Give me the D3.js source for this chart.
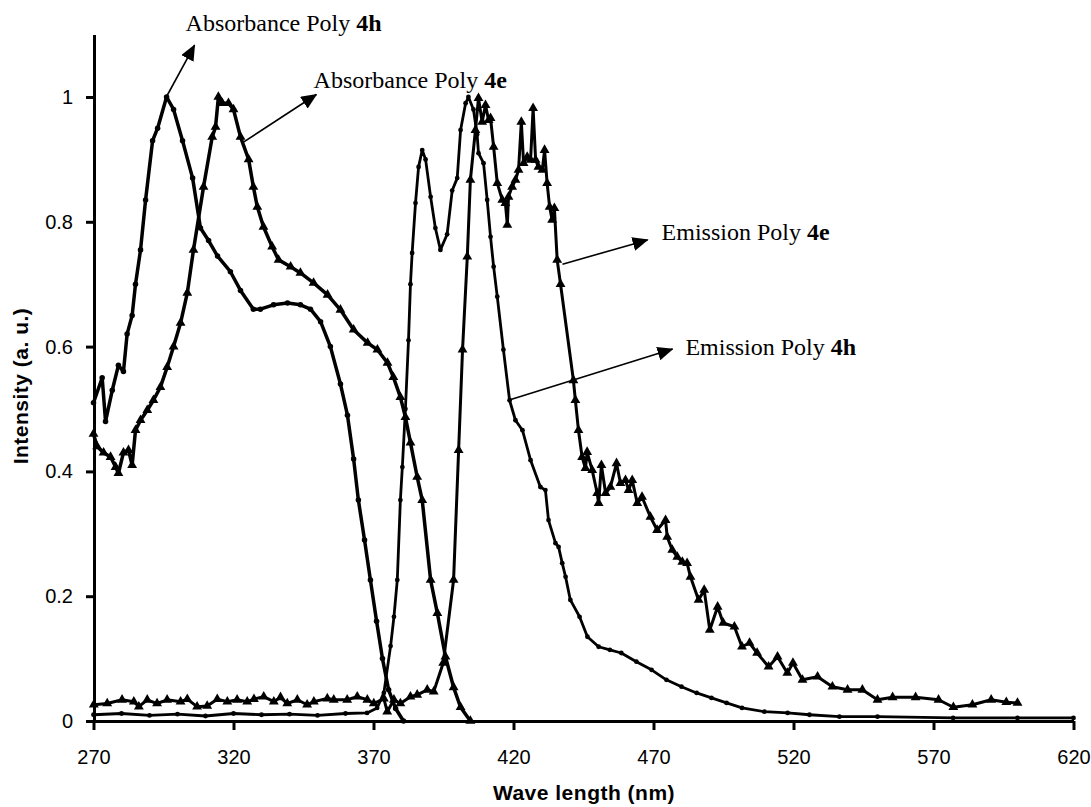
<!DOCTYPE html>
<html lang="en">

<head>
    <meta charset="UTF-8">
    <title>absorbance / emission</title>
    <style>
        body {
            margin: 0;
            background: #fff;
        }

        .tick text {
            font: 20px "Liberation Sans", Arial, sans-serif;
            fill: #000;
        }

        .title {
            font: bold 21px "Liberation Sans", Arial, sans-serif;
            letter-spacing: 0.5px;
        }

        .note {
            font: 24px "Liberation Serif", "Times New Roman", serif;
        }
    </style>
</head>

<body>
    <svg width="1091" height="807"></svg>
    <script src="https://d3js.org/d3.v7.min.js"></script>
    <script>
        // values: [wave length nm, intensity]
        let absH = [[270, 0.51], [273.1, 0.55], [274.3, 0.48], [276.7, 0.53], [278.9, 0.57], [280.7, 0.56],
            [282, 0.62], [283.8, 0.65], [285, 0.70], [286.8, 0.755], [288.6, 0.835], [291.1, 0.93],
            [292.9, 0.95], [296.1, 1.0], [298.6, 0.98], [301.8, 0.93], [305.4, 0.87], [308.2, 0.79],
            [311.1, 0.77], [314.3, 0.745], [318.9, 0.72], [322.5, 0.69], [327.1, 0.66], [329.6, 0.66],
            [334.3, 0.667], [339.3, 0.67], [343.9, 0.667], [347.5, 0.66], [351.1, 0.64], [354.6, 0.60],
            [358.2, 0.54], [360.7, 0.49], [362.9, 0.42], [364.6, 0.354], [366.8, 0.29], [368.9, 0.226],
            [371.1, 0.16], [373.2, 0.10], [375.4, 0.05], [377.9, 0.02], [380.7, 0]];

        let absE = [[270, 0.46], [271.3, 0.44], [273.6, 0.43], [276.1, 0.423], [277.9, 0.407], [278.9, 0.397],
            [280.7, 0.43], [282.5, 0.434], [283.8, 0.41], [285, 0.466], [286.8, 0.482], [289.2, 0.498],
            [291.4, 0.514], [293.9, 0.535], [296.3, 0.567], [298.6, 0.60], [301.1, 0.638], [303.5, 0.686],
            [305.7, 0.755], [309.3, 0.856], [312.4, 0.936], [313.6, 0.952], [314.6, 1.0], [316, 0.99],
            [318.2, 0.99], [320, 0.98], [322.5, 0.936], [325.4, 0.9], [327.1, 0.856], [328.5, 0.824],
            [330.7, 0.792], [333.8, 0.76], [336.1, 0.739], [340.4, 0.728], [343.9, 0.718], [348.6, 0.702],
            [353.6, 0.683], [358.2, 0.659], [362.9, 0.627], [367.9, 0.606], [371.4, 0.595], [375, 0.574],
            [377.1, 0.551], [379.6, 0.519], [381.4, 0.487], [383.2, 0.446], [385.6, 0.391], [387.4, 0.354],
            [390.4, 0.226], [392.8, 0.173], [395.7, 0.103], [398.6, 0.054], [401.1, 0.022], [404.6, 0]];

        let emH = [[270, 0.010], [280, 0.012], [290, 0.009], [300, 0.011], [310, 0.008], [320, 0.012],
            [330, 0.010], [340, 0.011], [350, 0.009], [360, 0.012], [367.7, 0.013], [371.3, 0.021],
            [373.7, 0.045], [376.1, 0.12], [377.3, 0.167], [378.5, 0.226], [379.6, 0.354], [380.3, 0.407],
            [381.4, 0.5], [382.5, 0.61], [383.2, 0.70], [383.8, 0.75], [385, 0.83], [386.1, 0.888],
            [387.4, 0.915], [388.6, 0.90], [390.4, 0.84], [392.1, 0.79], [393.9, 0.755], [396.3, 0.78],
            [398.1, 0.85], [399.9, 0.87], [401.1, 0.947], [402.9, 0.99], [403.9, 1.0], [405.7, 0.98],
            [407, 0.94], [407.5, 0.91], [409.3, 0.894], [410.6, 0.835], [411.8, 0.776], [412.9, 0.728],
            [414.2, 0.68], [416.4, 0.595], [418.6, 0.514], [420.7, 0.482], [423.2, 0.466], [426.1, 0.418],
            [429.6, 0.375], [431.4, 0.37], [432.5, 0.322], [435, 0.285], [436.1, 0.279], [437.4, 0.253],
            [438.6, 0.231], [440.3, 0.194], [443.6, 0.167], [446.4, 0.135], [450.4, 0.119], [454.4, 0.114],
            [458.5, 0.109], [463.9, 0.095], [469.3, 0.082], [474.6, 0.066], [480, 0.055], [485.4, 0.045],
            [490.7, 0.037], [496.1, 0.029], [501.6, 0.021], [509.6, 0.015], [517.9, 0.013], [525.7, 0.010],
            [536.4, 0.007], [550, 0.007], [577, 0.005], [600, 0.005], [620, 0.005]];

        let emE = [[270.1, 0.026], [274.9, 0.028], [280.2, 0.034], [284.4, 0.031], [286.2, 0.023], [289.2, 0.034],
            [292.7, 0.028], [296.3, 0.034], [301.1, 0.031], [303.5, 0.035], [307, 0.023], [310.6, 0.024],
            [314.2, 0.035], [317.8, 0.031], [321.3, 0.034], [324.9, 0.031], [327.3, 0.035], [330.8, 0.039],
            [334.4, 0.031], [336.8, 0.038], [339.2, 0.028], [342.8, 0.034], [346.3, 0.026], [348.7, 0.031],
            [353.5, 0.036], [355.8, 0.034], [360.6, 0.034], [364.2, 0.039], [367.8, 0.034], [370.1, 0.028],
            [373.7, 0.036], [374.9, 0.015], [377.3, 0.034], [379.6, 0.028], [383.2, 0.039], [385.6, 0.042],
            [389.2, 0.05], [391.5, 0.047], [394.9, 0.093], [398.6, 0.226], [400.4, 0.434], [401.8, 0.595],
            [403.5, 0.744], [404.6, 0.867], [406.4, 0.947], [407.5, 0.998], [408.8, 0.96], [410, 0.987],
            [411.1, 0.963], [411.8, 0.966], [412.9, 0.92], [414.2, 0.862], [416, 0.835], [417.1, 0.83],
            [417.8, 0.795], [418.2, 0.84], [419.5, 0.856], [420.7, 0.867], [421.8, 0.883], [422.8, 0.96],
            [423.6, 0.894], [424.9, 0.904], [426.1, 0.899], [427, 0.982], [427.9, 0.899], [428.9, 0.888],
            [430.3, 0.883], [431.1, 0.915], [432, 0.862], [432.9, 0.824], [433.8, 0.803], [434.6, 0.822],
            [435.6, 0.739], [436.8, 0.70], [441.4, 0.546], [442.1, 0.514], [443.2, 0.466], [444.5, 0.423],
            [445.7, 0.405], [446.3, 0.431], [448.1, 0.402], [449.9, 0.365], [450.4, 0.349], [451.4, 0.41],
            [452.9, 0.365], [454.6, 0.375], [456.8, 0.413], [458.2, 0.381], [460, 0.386], [461.1, 0.37],
            [462.4, 0.386], [464.2, 0.349], [465.9, 0.359], [468.9, 0.327], [471.3, 0.306], [474.3, 0.322],
            [474.9, 0.295], [476.7, 0.274], [478.5, 0.263], [480.3, 0.255], [482, 0.253], [483.2, 0.231],
            [486.1, 0.194], [488.1, 0.21], [490.1, 0.146], [492.9, 0.183], [494.9, 0.157], [498.9, 0.151],
            [501.6, 0.119], [504.3, 0.125], [507, 0.109], [511.1, 0.087], [514.3, 0.103], [517.8, 0.077],
            [519.8, 0.093], [523.2, 0.066], [528.6, 0.071], [533.9, 0.055], [539.3, 0.05], [544.6, 0.05],
            [550, 0.034], [555.4, 0.038], [563.6, 0.038], [571.8, 0.034], [577.1, 0.022], [583.9, 0.026],
            [590.6, 0.034], [596, 0.030], [600, 0.029]];

        let xTicks = [270, 320, 370, 420, 470, 520, 570, 620];
        let yTicks = [0, 0.2, 0.4, 0.6, 0.8, 1];

        // callouts: label, bold part, arrow start, arrow tip, text anchor (all in data units)
        let notes = [
            { text: "Absorbance Poly ", bold: "4h", from: [296, 1.0], to: [306.1, 1.083], at: [302.9, 1.106] },
            { text: "Absorbance Poly ", bold: "4e", from: [323.7, 0.928], to: [349.6, 1.004], at: [348.6, 1.014] },
            { text: "Emission Poly ", bold: "4e", from: [437.5, 0.732], to: [467.9, 0.771], at: [472.9, 0.771] },
            { text: "Emission Poly ", bold: "4h", from: [418.2, 0.514], to: [476.8, 0.596], at: [481.4, 0.587] }
        ];

        let svg = d3.select("svg");

        let x = d3.scaleLinear().domain([270, 620]).range([93.5, 1073.5]);
        let y = d3.scaleLinear().domain([0, 1.1]).range([721, 34.6]);

        svg.append("defs").append("marker")
            .attr("id", "head")
            .attr("markerUnits", "userSpaceOnUse")
            .attr("markerWidth", 16)
            .attr("markerHeight", 14)
            .attr("refX", 15)
            .attr("refY", 7)
            .attr("orient", "auto")
            .append("path")
            .attr("d", "M0,0L16,7L0,14Z")
            .attr("fill", "#000");

        let line = d3.line().x(d => x(d[0])).y(d => y(d[1]));

        let series = [
            { data: absH, shape: d3.symbolCircle, size: 24, width: 3.5 },
            { data: absE, shape: d3.symbolTriangle, size: 42, width: 3.5 },
            { data: emH, shape: d3.symbolCircle, size: 18, width: 2.8 },
            { data: emE, shape: d3.symbolTriangle, size: 42, width: 3 }
        ];

        series.forEach(s => {
            svg.append("path")
                .datum(s.data)
                .attr("d", line)
                .attr("fill", "none")
                .attr("stroke", "#000")
                .attr("stroke-width", s.width)
                .attr("stroke-linejoin", "round");

            svg.append("g").selectAll("path")
                .data(s.data)
                .join("path")
                .attr("transform", d => `translate(${x(d[0])},${y(d[1])})`)
                .attr("d", d3.symbol().type(s.shape).size(s.size))
                .attr("fill", "#000");
        });

        let xAxis = svg.append("g")
            .attr("transform", "translate(0,721)")
            .call(d3.axisBottom(x).tickValues(xTicks).tickSize(9).tickSizeOuter(0).tickPadding(20));

        let yAxis = svg.append("g")
            .attr("transform", "translate(94,0)")
            .call(d3.axisLeft(y).tickValues(yTicks).tickSize(8).tickSizeOuter(0).tickPadding(13)
                .tickFormat(d => d3.format("~g")(d)));

        [xAxis, yAxis].forEach(a => {
            a.select(".domain").attr("stroke", "#000").attr("stroke-width", 3);
            a.selectAll(".tick line").attr("stroke", "#000").attr("stroke-width", 3);
        });

        svg.append("text")
            .attr("class", "title")
            .attr("x", 584)
            .attr("y", 800)
            .attr("text-anchor", "middle")
            .text("Wave length (nm)");

        svg.append("text")
            .attr("class", "title")
            .attr("transform", "translate(28,386) rotate(-90)")
            .attr("text-anchor", "middle")
            .text("Intensity (a. u.)");

        notes.forEach(n => {
            svg.append("line")
                .attr("x1", x(n.from[0])).attr("y1", y(n.from[1]))
                .attr("x2", x(n.to[0])).attr("y2", y(n.to[1]))
                .attr("stroke", "#000")
                .attr("stroke-width", 1.6)
                .attr("marker-end", "url(#head)");

            let t = svg.append("text")
                .attr("class", "note")
                .attr("x", x(n.at[0]))
                .attr("y", y(n.at[1]));
            t.append("tspan").text(n.text);
            t.append("tspan").attr("font-weight", "bold").text(n.bold);
        });
    </script>

</body>

</html>
